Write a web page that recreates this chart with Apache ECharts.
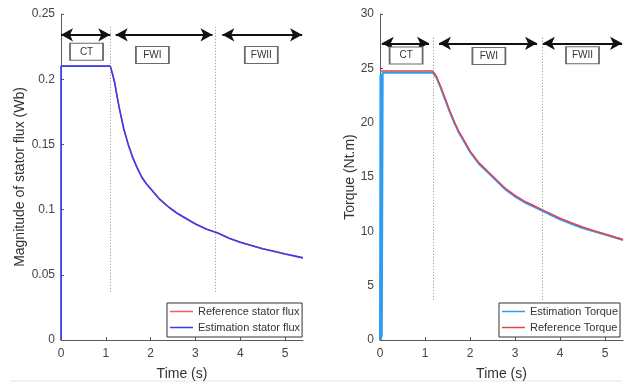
<!DOCTYPE html>
<html>
<head>
<meta charset="utf-8">
<script src="https://cdn.jsdelivr.net/npm/echarts@6/dist/echarts.min.js"></script>
<style>
  html, body { margin: 0; padding: 0; background: #fff; }
  #chart { width: 631px; height: 390px; }
</style>
</head>
<body>
<div id="chart"></div>
<script>
// stator flux (Wb) vs time (s)
const fluxTime = [0, 1.1, 1.15, 1.2, 1.25, 1.3, 1.4, 1.5, 1.6, 1.7, 1.8, 1.9, 2.0, 2.2, 2.4, 2.6, 2.8, 3.0, 3.25, 3.5, 3.75, 4.0, 4.25, 4.5, 4.75, 5.0, 5.2, 5.4];
const fluxRef = [0.21, 0.21, 0.204, 0.197, 0.187, 0.178, 0.162, 0.150, 0.140, 0.132, 0.125, 0.120, 0.116, 0.108, 0.102, 0.097, 0.093, 0.089, 0.085, 0.082, 0.078, 0.075, 0.0725, 0.070, 0.068, 0.066, 0.0645, 0.063];
const fluxEstTime = [0].concat(fluxTime);
const fluxEst = [0].concat(fluxRef);

// torque (Nt.m) vs time (s)
const torqueTime = [0, 1.17, 1.25, 1.35, 1.45, 1.55, 1.65, 1.75, 1.85, 2.0, 2.2, 2.4, 2.6, 2.8, 3.0, 3.2, 3.4, 3.6, 3.8, 4.0, 4.25, 4.5, 4.75, 5.0, 5.2, 5.4];
const torqueRef = [24.75, 24.75, 24.3, 23.3, 22.2, 21.1, 20.1, 19.2, 18.5, 17.4, 16.3, 15.5, 14.7, 13.9, 13.3, 12.8, 12.4, 12.0, 11.6, 11.2, 10.8, 10.4, 10.05, 9.75, 9.5, 9.25];
const torqueEstTime = [0, 0.01, 0.02, 0.03, 0.04, 0.06, 1.17, 1.25, 1.35, 1.45, 1.55, 1.65, 1.75, 1.85, 2.0, 2.2, 2.4, 2.6, 2.8, 3.0, 3.2, 3.4, 3.6, 3.8, 4.0, 4.25, 4.5, 4.75, 5.0, 5.2, 5.4];
const torqueEst = [0, 24.4, 0, 24.5, 0.3, 24.6, 24.6, 24.2, 23.2, 22.1, 21.0, 20.0, 19.1, 18.4, 17.3, 16.2, 15.4, 14.6, 13.8, 13.2, 12.7, 12.3, 11.9, 11.5, 11.1, 10.7, 10.3, 10.0, 9.7, 9.45, 9.2];

// operating regions
const phaseNames = ['CT', 'FWI', 'FWII'];
const fluxPhaseLines = [1.1, 3.44];
const torquePhaseLines = [1.18, 3.6];
const fluxArrows = [[0, 1.1], [1.22, 3.38], [3.6, 5.38]];
const torqueArrows = [[0.04, 1.09], [1.31, 3.49], [3.62, 5.38]];
const fluxBoxes = [[0.57, 0.221], [2.04, 0.2185], [4.47, 0.2185]];
const torqueBoxes = [[0.58, 26.18], [2.42, 26.13], [4.5, 26.2]];

const xTicks = [0, 1, 2, 3, 4, 5];

const zip = (a, b) => a.map((v, i) => [v, b[i]]);

const axisColor = '#5a5a5a';
const labelColor = '#444';

function xAxisOpt(gridIndex) {
  return {
    gridIndex: gridIndex, type: 'value', min: 0, max: 5.4,
    name: 'Time (s)', nameLocation: 'middle', nameGap: 27,
    nameTextStyle: { fontSize: 14, color: '#333' },
    axisLine: { lineStyle: { color: axisColor } },
    axisTick: { inside: true, length: 3, customValues: xTicks, lineStyle: { color: axisColor } },
    axisLabel: { customValues: xTicks, fontSize: 12, color: labelColor, margin: 8 },
    splitLine: { show: false }
  };
}

function yAxisOpt(gridIndex, name, max, interval, gap) {
  return {
    gridIndex: gridIndex, type: 'value', min: 0, max: max, interval: interval,
    name: name, nameLocation: 'middle', nameGap: gap,
    nameTextStyle: { fontSize: 14, color: '#333' },
    axisLine: { show: true, lineStyle: { color: axisColor } },
    axisTick: { show: true, inside: true, length: 3, lineStyle: { color: axisColor } },
    axisLabel: { fontSize: 12, color: labelColor, margin: 6 },
    splitLine: { show: false }
  };
}

function annotations(xi, yi, lines, lineBottom, lineTop, arrows, arrowY, boxes) {
  const dotted = lines.map(x => [
    { coord: [x, lineBottom], symbol: 'none', lineStyle: { type: [1, 2], color: '#8a8a8a', width: 1 } },
    { coord: [x, lineTop], symbol: 'none' }
  ]);
  const arr = arrows.map(a => [
    { coord: [a[0], arrowY], lineStyle: { type: 'solid', color: '#111', width: 2 } },
    { coord: [a[1], arrowY] }
  ]);
  return {
    type: 'line', xAxisIndex: xi, yAxisIndex: yi, data: [], silent: true,
    markLine: {
      silent: true, symbol: ['arrow', 'arrow'], symbolSize: [10, 12],
      label: { show: false },
      emphasis: { disabled: true },
      data: dotted.concat(arr)
    },
    markPoint: {
      silent: true, symbol: 'rect', symbolSize: [33, 17],
      itemStyle: { color: '#fff', borderColor: '#6a6a6a', borderWidth: 1.3 },
      label: { show: true, position: 'inside', color: '#333', fontSize: 10, formatter: p => p.name },
      data: boxes.map((b, i) => ({ name: phaseNames[i], coord: b }))
    }
  };
}

const chart = echarts.init(document.getElementById('chart'));
chart.setOption({
  animation: false,
  backgroundColor: '#fff',
  textStyle: { fontFamily: 'Liberation Sans, Arial, sans-serif' },
  grid: [
    { left: 61, top: 14, width: 242, height: 326 },
    { left: 380, top: 14, width: 243, height: 326 }
  ],
  xAxis: [xAxisOpt(0), xAxisOpt(1)],
  yAxis: [
    yAxisOpt(0, 'Magnitude of stator flux (Wb)', 0.25, 0.05, 34),
    yAxisOpt(1, 'Torque (Nt.m)', 30, 5, 22)
  ],
  legend: [
    {
      data: ['Reference stator flux', 'Estimation stator flux'],
      orient: 'vertical', left: 167, top: 303,
      icon: 'rect', itemWidth: 23, itemHeight: 1.5, itemGap: 5,
      padding: [3, 2, 4, 3], borderColor: '#333', borderWidth: 1, backgroundColor: '#fff',
      textStyle: { fontSize: 11, color: '#333' }
    },
    {
      data: ['Estimation Torque', 'Reference Torque'],
      orient: 'vertical', left: 499, top: 303,
      icon: 'rect', itemWidth: 23, itemHeight: 1.5, itemGap: 5,
      padding: [3, 2, 4, 3], borderColor: '#333', borderWidth: 1, backgroundColor: '#fff',
      textStyle: { fontSize: 11, color: '#333' }
    }
  ],
  graphic: [
    { type: 'line', shape: { x1: 10, y1: 381, x2: 622, y2: 381 }, style: { stroke: '#e6e6e6', lineWidth: 1 }, silent: true }
  ],
  series: [
    {
      name: 'Reference stator flux', type: 'line', xAxisIndex: 0, yAxisIndex: 0,
      data: zip(fluxTime, fluxRef), showSymbol: false,
      lineStyle: { color: '#ff5a5a', width: 1.5 }, itemStyle: { color: '#ff5a5a' }
    },
    {
      name: 'Estimation stator flux', type: 'line', xAxisIndex: 0, yAxisIndex: 0,
      data: zip(fluxEstTime, fluxEst), showSymbol: false,
      lineStyle: { color: '#3b3bf2', width: 1.6 }, itemStyle: { color: '#3b3bf2' }
    },
    {
      name: 'Estimation Torque', type: 'line', xAxisIndex: 1, yAxisIndex: 1,
      data: zip(torqueEstTime, torqueEst), showSymbol: false,
      lineStyle: { color: '#2f9cf2', width: 2 }, itemStyle: { color: '#2f9cf2' }
    },
    {
      name: 'Reference Torque', type: 'line', xAxisIndex: 1, yAxisIndex: 1,
      data: zip(torqueTime, torqueRef), showSymbol: false,
      lineStyle: { color: '#e5434c', width: 1.5 }, itemStyle: { color: '#e5434c' }
    },
    annotations(0, 0, fluxPhaseLines, 0.037, 0.24, fluxArrows, 0.234, fluxBoxes),
    annotations(1, 1, torquePhaseLines, 3.7, 27.9, torqueArrows, 27.3, torqueBoxes)
  ]
});
</script>
</body>
</html>
